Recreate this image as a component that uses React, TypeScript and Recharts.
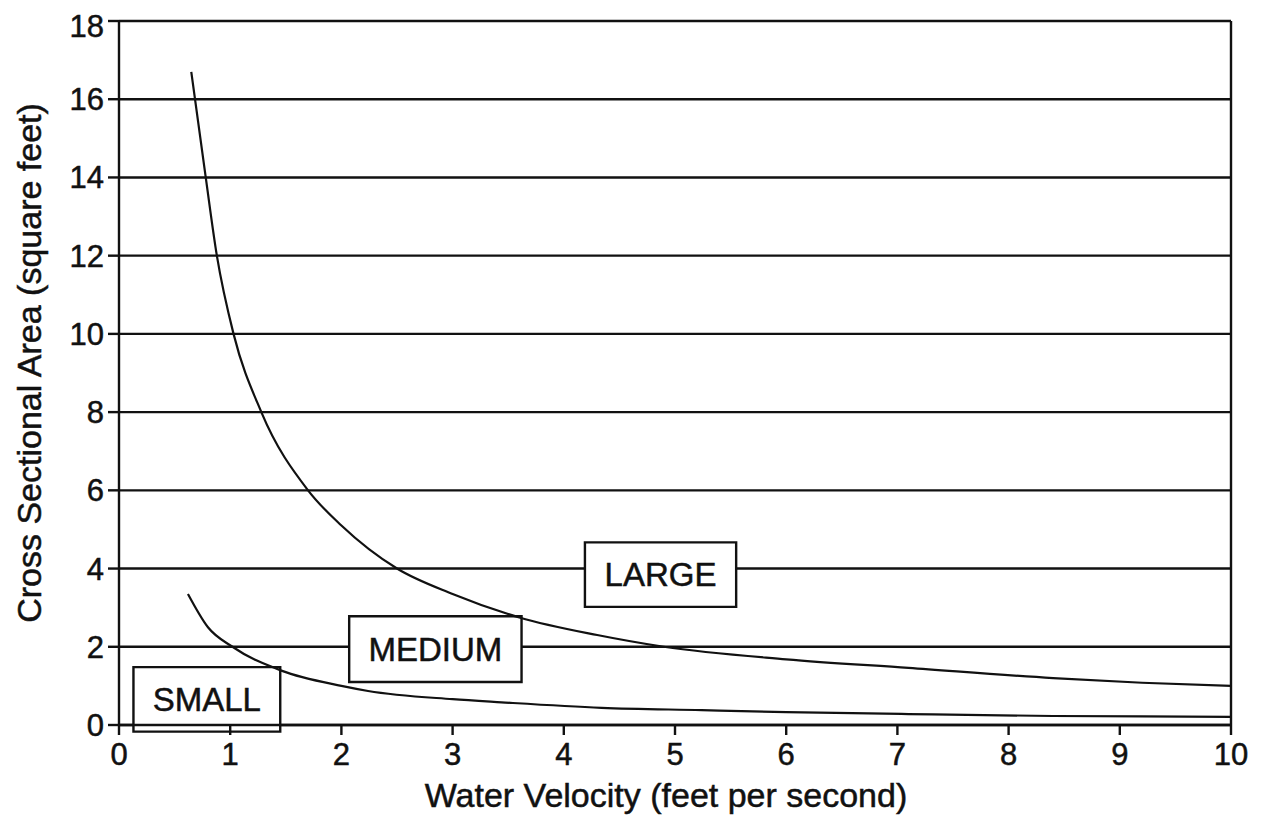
import { LineChart, Line, XAxis, YAxis, CartesianGrid, ReferenceArea, ReferenceLine, Label } from 'recharts';

// curves
const velocityLarge = [0.65, 0.78, 0.88, 1.03, 1.28, 1.7, 2.0, 2.5, 3.0, 3.6, 4.3, 4.9, 6.0, 7.1, 8.4, 9.2, 10.0];
const areaLarge = [16.7, 14, 12, 10, 8, 6, 5.1, 4, 3.35, 2.75, 2.3, 2.0, 1.68, 1.46, 1.2, 1.08, 1.0];

const velocitySmall = [0.62, 0.8, 1.02, 1.46, 2.0, 2.24, 3.0, 3.44, 4.34, 5.24, 6.0, 7.1, 8.4, 9.2, 10.0];
const areaSmall = [3.35, 2.5, 2.0, 1.39, 1.0, 0.87, 0.66, 0.58, 0.44, 0.38, 0.33, 0.28, 0.23, 0.22, 0.21];

const xTicks = [0, 1, 2, 3, 4, 5, 6, 7, 8, 9, 10];
const yTicks = [0, 2, 4, 6, 8, 10, 12, 14, 16, 18];

// size-class boxes: label, x from/to, y from/to
const boxLabels = ['LARGE', 'MEDIUM', 'SMALL'];
const boxX1 = [4.19, 2.07, 0.13];
const boxX2 = [5.55, 3.62, 1.45];
const boxY1 = [3.02, 1.1, -0.17];
const boxY2 = [4.67, 2.78, 1.48];

const FONT = '"Liberation Sans", Arial, Helvetica, sans-serif';
const INK = '#111';

const largeData = velocityLarge.map((x, i) => ({ x, y: areaLarge[i] }));
const smallData = velocitySmall.map((x, i) => ({ x, y: areaSmall[i] }));

// a thin stroke on the glyphs mimics the heavier scanned print
const tickStyle = { fontSize: 31, fill: INK, fontFamily: FONT, stroke: INK, strokeWidth: 0.5 };

const App = () => {
  return (
    <div style={{ width: 1257, height: 810, background: '#fff' }}>
      <LineChart width={1257} height={810} margin={{ top: 13, right: 34, left: 0, bottom: 0 }}>
        <CartesianGrid horizontal vertical={false} stroke={INK} strokeWidth={2.4} />
        <XAxis
          dataKey="x"
          type="number"
          domain={[0, 10]}
          ticks={xTicks}
          allowDataOverflow
          height={93}
          tickSize={10}
          tickMargin={8}
          tick={tickStyle}
          axisLine={{ stroke: INK, strokeWidth: 2.4 }}
          tickLine={{ stroke: INK, strokeWidth: 2.4 }}
        >
          <Label
            content={() => (
              <text
                x={658}
                y={799}
                textAnchor="middle"
                fontSize={34}
                fill={INK}
                stroke={INK}
                strokeWidth={0.5}
                fontFamily={FONT}
              >
                Water Velocity (feet per second)
              </text>
            )}
          />
        </XAxis>
        <YAxis
          type="number"
          domain={[0, 18]}
          ticks={yTicks}
          allowDataOverflow
          width={111}
          tickSize={11}
          tickMargin={4}
          tick={tickStyle}
          axisLine={{ stroke: INK, strokeWidth: 2.4 }}
          tickLine={{ stroke: INK, strokeWidth: 2.4 }}
        >
          <Label
            content={() => (
              <text
                x={21}
                y={355}
                textAnchor="middle"
                dominantBaseline="central"
                transform="rotate(-90 21 355)"
                fontSize={34}
                fill={INK}
                stroke={INK}
                strokeWidth={0.5}
                fontFamily={FONT}
              >
                Cross Sectional Area (square feet)
              </text>
            )}
          />
        </YAxis>
        <ReferenceLine x={10} stroke={INK} strokeWidth={2.4} />
        {boxLabels.map((name, i) => (
          <ReferenceArea
            key={name}
            x1={boxX1[i]}
            x2={boxX2[i]}
            y1={boxY1[i]}
            y2={boxY2[i]}
            ifOverflow="visible"
            fill="#fff"
            fillOpacity={1}
            stroke={INK}
            strokeWidth={2.4}
            label={{
              value: name,
              position: 'center',
              fontSize: 33,
              fill: INK,
              stroke: INK,
              strokeWidth: 0.5,
              fontFamily: FONT,
            }}
          />
        ))}
        <Line
          data={largeData}
          dataKey="y"
          type="monotone"
          stroke={INK}
          strokeWidth={2.2}
          dot={false}
          isAnimationActive={false}
        />
        <Line
          data={smallData}
          dataKey="y"
          type="monotone"
          stroke={INK}
          strokeWidth={2.2}
          dot={false}
          isAnimationActive={false}
        />
      </LineChart>
    </div>
  );
};

export default App;
